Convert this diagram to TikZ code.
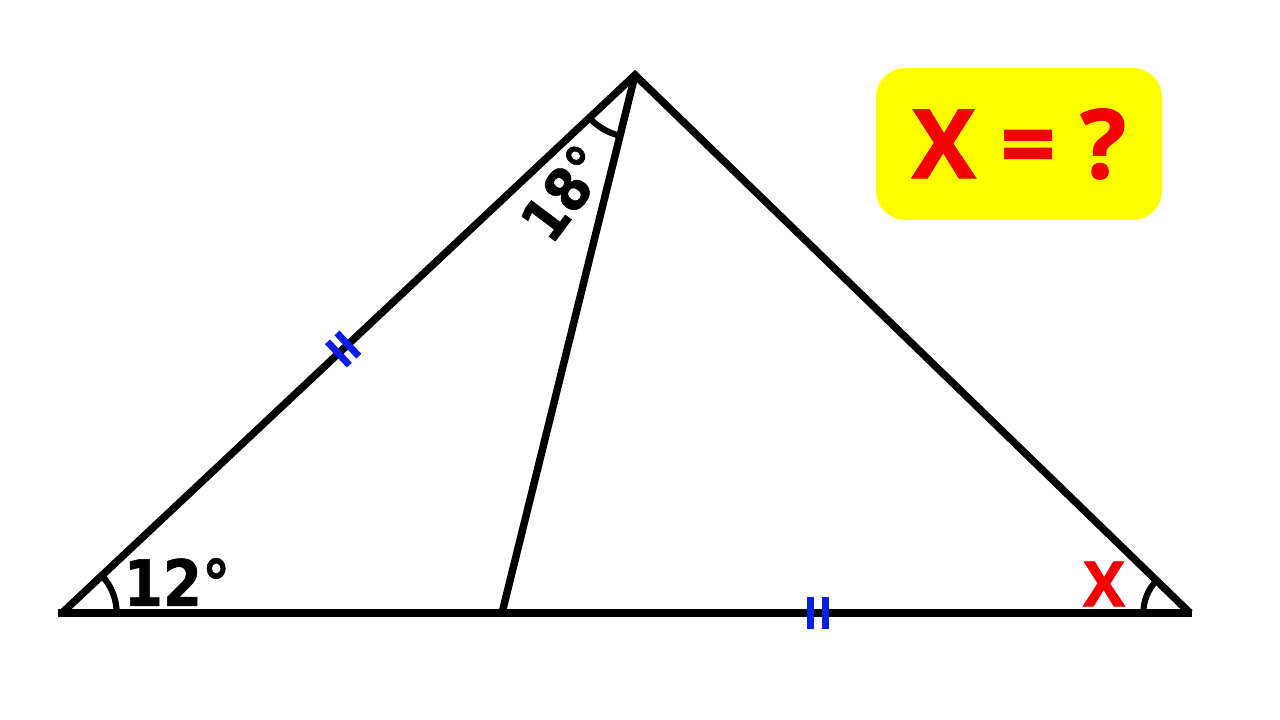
\documentclass[tikz,border=0pt]{standalone}
\usepackage{fontspec}
\setmainfont{Open Sans}
\newfontfamily\heavyfont[BoldFeatures={FakeBold=1.2}]{Open Sans}
\newfontfamily\digfont[FakeStretch=0.88, BoldFeatures={FakeBold=0.8}]{DejaVu Sans}
\usetikzlibrary{angles,calc}
\definecolor{ansred}{RGB}{245,0,0}
\definecolor{tickblue}{RGB}{10,30,230}
\definecolor{boxyellow}{RGB}{255,255,0}
\tikzset{
  edge/.style={line width=5.6pt, black},
  arcmark/.style={draw, line width=4.6pt},
  tickmark/.style={line width=5.2pt, tickblue},
  anglabel/.style={font=\digfont\bfseries\fontsize{48}{48}\selectfont, inner sep=0pt},
}
\begin{document}
\begin{tikzpicture}[x=0.75pt,y=0.75pt]
\useasboundingbox (0,0) rectangle (1280,720);
\coordinate (A) at (62,107);
\coordinate (B) at (635,645);
\coordinate (C) at (1190,107);
\coordinate (D) at (502,107);
\coordinate (A0) at (58,107);
\coordinate (C0) at (1192,107);
% angle arcs
\pic[arcmark, angle radius=41pt] {angle=D--A--B};
\pic[arcmark, angle radius=47pt] {angle=A--B--D};
\pic[arcmark, angle radius=35pt] {angle=B--C--A};
% sides
\draw[edge] (A0) -- (C0);
\draw[edge, line join=miter] (A) -- (B) -- (C);
\draw[edge] (B) -- (D);
% tick marks
\coordinate (T1) at ($(A)!0.49!(B)$);
\coordinate (T2) at ($(D)!0.458!(C)$);
\begin{scope}[shift={(T1)}, rotate=43.2]
  \draw[tickmark] (-6,-16) -- (-6,16);
  \draw[tickmark] (7,-16) -- (7,16);
\end{scope}
\begin{scope}[shift={(T2)}]
  \draw[tickmark] (-7,-16) -- (-7,16);
  \draw[tickmark] (8,-16) -- (8,16);
\end{scope}
% labels
\node[anglabel] (l12) at (177,138) {12°};
\node[anglabel, font=\digfont\bfseries\fontsize{45}{45}\selectfont, rotate=53] (l18) at (564,527) {18°};
\node[font=\heavyfont\bfseries\fontsize{47}{47}\selectfont, text=ansred, inner sep=0pt] (lx) at (1104,136) {X};
% question box
\node[fill=boxyellow, rounded corners=22pt, minimum width=286*0.75pt, minimum height=152*0.75pt, inner sep=0pt,
      font=\heavyfont\bfseries\fontsize{72}{72}\selectfont, text=ansred] (q) at (1019,576) {X = ?};
\end{tikzpicture}
\end{document}
